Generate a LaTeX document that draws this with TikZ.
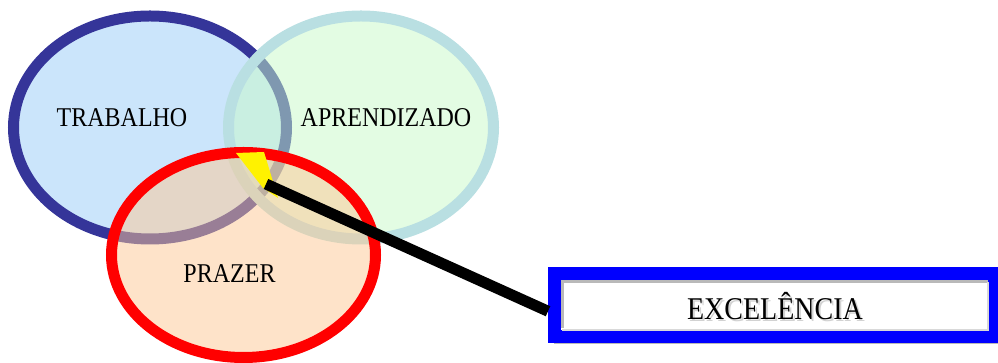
\documentclass[tikz,border=0pt]{standalone}
\usepackage{fontspec}
\setmainfont{Liberation Serif}
\usetikzlibrary{shapes.geometric}
\definecolor{trabS}{HTML}{353599}
\definecolor{trabF}{HTML}{CBE5FB}
\definecolor{aprS}{HTML}{B9DFE2}
\definecolor{aprF}{RGB}{200,249,200}
\definecolor{przF}{RGB}{253,200,148}
\definecolor{boxB}{HTML}{0000FF}
\tikzset{
  venn/.style={ellipse, inner sep=0pt, line width=11pt},
  lbl/.style={anchor=base, font=\fontsize{24}{28}\selectfont},
  biglbl/.style={anchor=base, font=\fontsize{28}{32}\selectfont},
}
\newcommand{\tallx}[1]{\scalebox{1}[1.13]{#1}}
\begin{document}
\begin{tikzpicture}[x=1pt,y=1pt]
\useasboundingbox (0,0) rectangle (998,363);
% ellipses
\node[venn, draw=trabS, fill=trabF, minimum width=273pt, minimum height=223pt] (trab) at (150,235.5) {};
\node[venn, draw=aprS, fill=aprF, fill opacity=0.51, draw opacity=1, minimum width=265pt, minimum height=223pt] (apr) at (361,235.5) {};
\node[venn, draw=red, fill=przF, fill opacity=0.5, draw opacity=1, minimum width=264pt, minimum height=205pt] (prz) at (243.5,108) {};
% labels
\node[lbl] (tl) at (122,236.5) {\tallx{TRABALHO}};
\node[lbl] (al) at (386,236.5) {\tallx{APRENDIZADO}};
\node[lbl] (pl) at (229.5,80) {\tallx{PRAZER}};
% box shadow
\fill[gray!55] (554,19) rectangle (1005,87);
% box
\node[draw=boxB, fill=white, line width=13pt, inner sep=0pt, minimum width=440pt, minimum height=63.5pt] (box) at (774.5,57.75) {};
\draw[gray!55, line width=3pt] (562.5,35) -- (562.5,81.5) -- (988,81.5);
\draw[gray!30, line width=1.5pt] (562,33) -- (988,33) -- (988,81);
\node[biglbl, text=gray!35] (exs) at (777,41) {\tallx{EXCELÊNCIA}};
\node[biglbl] (ex) at (775,43) {\tallx{EXCELÊNCIA}};
% pointer
\coordinate (tip) at (266,179);
\fill[yellow] (236,210) -- (264,211) -- (278,165) -- (263,175) -- cycle;
\draw[line width=11pt] ([yshift=-6pt]box.west) -- (tip);
\end{tikzpicture}
\end{document}
